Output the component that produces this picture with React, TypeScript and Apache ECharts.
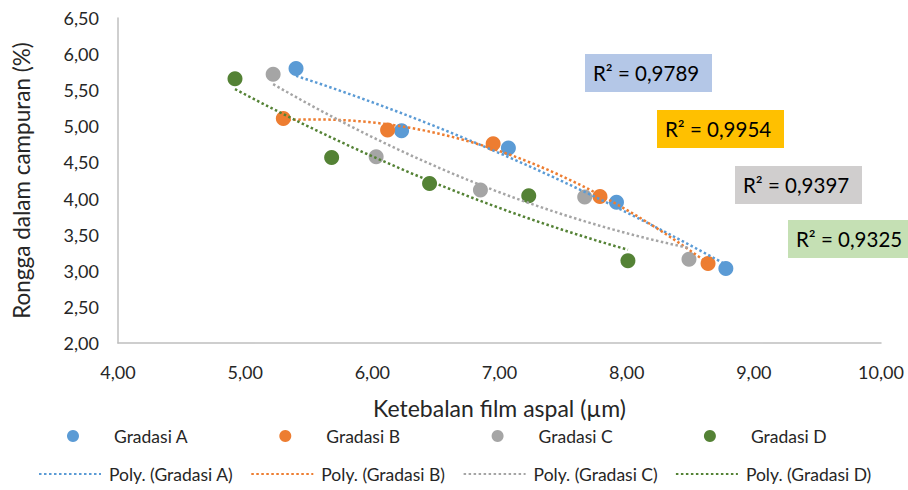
import React, { useEffect, useRef } from 'react';
import * as echarts from 'echarts';

const seriesNames = ['Gradasi A', 'Gradasi B', 'Gradasi C', 'Gradasi D'];
const trendNames = ['Poly. (Gradasi A)', 'Poly. (Gradasi B)', 'Poly. (Gradasi C)', 'Poly. (Gradasi D)'];
const colors = ['#5B9BD5', '#ED7D31', '#A5A5A5', '#548235'];

const xA = [5.40, 6.23, 7.07, 7.92, 8.78];
const yA = [5.80, 4.94, 4.70, 3.95, 3.03];
const xB = [5.30, 6.12, 6.95, 7.79, 8.64];
const yB = [5.11, 4.95, 4.76, 4.03, 3.10];
const xC = [5.22, 6.03, 6.85, 7.67, 8.49];
const yC = [5.72, 4.58, 4.12, 4.02, 3.16];
const xD = [4.92, 5.68, 6.45, 7.23, 8.01];
const yD = [5.66, 4.57, 4.21, 4.04, 3.14];

const xsAll = [xA, xB, xC, xD];
const ysAll = [yA, yB, yC, yD];

const r2Labels = ['R² = 0,9789', 'R² = 0,9954', 'R² = 0,9397', 'R² = 0,9325'];
const r2Backgrounds = ['#B4C7E7', '#FFC000', '#D0CECE', '#C5E0B4'];

const FONT = 'Lato, "Open Sans", sans-serif';
const TEXT = '#262626';

// least-squares quadratic trendline (as Excel's "Poly." order 2)
function polyFit2(xs: number[], ys: number[]): number[] {
  const s = [0, 0, 0, 0, 0];
  const t = [0, 0, 0];
  for (let i = 0; i < xs.length; i++) {
    let p = 1;
    for (let k = 0; k < 5; k++) {
      s[k] += p;
      if (k < 3) t[k] += p * ys[i];
      p *= xs[i];
    }
  }
  const m = [
    [s[0], s[1], s[2], t[0]],
    [s[1], s[2], s[3], t[1]],
    [s[2], s[3], s[4], t[2]],
  ];
  for (let c = 0; c < 3; c++) {
    let piv = c;
    for (let r = c + 1; r < 3; r++) if (Math.abs(m[r][c]) > Math.abs(m[piv][c])) piv = r;
    [m[c], m[piv]] = [m[piv], m[c]];
    for (let r = 0; r < 3; r++) {
      if (r === c) continue;
      const f = m[r][c] / m[c][c];
      for (let k = c; k < 4; k++) m[r][k] -= f * m[c][k];
    }
  }
  return [m[0][3] / m[0][0], m[1][3] / m[1][1], m[2][3] / m[2][2]];
}

function trendPoints(xs: number[], ys: number[]): number[][] {
  const [a, b, c] = polyFit2(xs, ys);
  const lo = Math.min(...xs);
  const hi = Math.max(...xs);
  const pts: number[][] = [];
  const n = 60;
  for (let i = 0; i <= n; i++) {
    const x = lo + ((hi - lo) * i) / n;
    pts.push([x, a + b * x + c * x * x]);
  }
  return pts;
}

const fmt = (v: number) => v.toFixed(2).replace('.', ',');

export default function App() {
  const ref = useRef<HTMLDivElement>(null);
  useEffect(() => {
    if (!ref.current) return;
    const chart = echarts.init(ref.current, undefined, { renderer: 'svg' });

    const scatterSeries = seriesNames.map((name, i) => ({
      name,
      type: 'scatter',
      symbol: 'circle',
      symbolSize: 15,
      itemStyle: { color: colors[i], opacity: 1 },
      data: xsAll[i].map((x, j) => [x, ysAll[i][j]]),
      z: 2,
    }));
    const trendSeries = trendNames.map((name, i) => ({
      name,
      type: 'line',
      symbol: 'none',
      showSymbol: false,
      smooth: false,
      lineStyle: { color: colors[i], width: 2.5, type: [2.5, 2.5] },
      itemStyle: { color: colors[i] },
      data: trendPoints(xsAll[i], ysAll[i]),
      z: 3,
    }));

    const legendStep = 212.3;
    const legends: any[] = [];
    seriesNames.forEach((name, i) => {
      legends.push({
        data: [name],
        left: 67 + legendStep * i,
        top: 427,
        padding: 0,
        icon: 'circle',
        itemWidth: 12,
        itemHeight: 12,
        itemGap: 0,
        selectedMode: false,
        textStyle: { fontFamily: FONT, fontSize: 17.5, color: TEXT, lineHeight: 18, padding: [0, 0, 0, 30] },
      });
    });
    trendNames.forEach((name, i) => {
      legends.push({
        data: [name],
        left: 38 + legendStep * i,
        top: 465,
        padding: 0,
        itemWidth: 62,
        itemHeight: 12,
        itemGap: 0,
        selectedMode: false,
        itemStyle: { opacity: 0 },
        lineStyle: { width: 2 },
        textStyle: { fontFamily: FONT, fontSize: 17.5, color: TEXT, lineHeight: 18, padding: [0, 0, 0, 3] },
      });
    });

    const boxes = [
      { x: 585, y: 54 },
      { x: 657, y: 110 },
      { x: 735, y: 166 },
      { x: 788, y: 220 },
    ];
    const graphic = r2Labels.map((label, i) => ({
      type: 'group',
      left: boxes[i].x,
      top: boxes[i].y,
      children: [
        { type: 'rect', shape: { x: 0, y: 0, width: 127, height: 38 }, style: { fill: r2Backgrounds[i] } },
        {
          type: 'text',
          x: 8,
          y: 19,
          style: { text: label, fontFamily: FONT, fontSize: 20.5, fill: '#000', verticalAlign: 'middle', align: 'left' },
        },
      ],
    }));

    chart.setOption({
      animation: false,
      textStyle: { fontFamily: FONT },
      grid: { left: 118, right: 27, top: 18, bottom: 147, containLabel: false },
      xAxis: {
        type: 'value',
        min: 4,
        max: 10,
        interval: 1,
        name: 'Ketebalan film aspal (µm)',
        nameLocation: 'middle',
        nameGap: 53,
        nameTextStyle: { fontFamily: FONT, fontSize: 23, color: TEXT },
        axisLine: { show: true, onZero: false, lineStyle: { color: '#BFBFBF', width: 1.5 } },
        axisTick: { show: false },
        splitLine: { show: false },
        axisLabel: { formatter: fmt, fontFamily: FONT, fontSize: 18, color: TEXT, margin: 20 },
      },
      yAxis: {
        type: 'value',
        min: 2,
        max: 6.5,
        interval: 0.5,
        name: 'Rongga dalam campuran (%)',
        nameLocation: 'middle',
        nameGap: 85,
        nameRotate: 90,
        nameTextStyle: { fontFamily: FONT, fontSize: 22.5, color: TEXT },
        axisLine: { show: true, onZero: false, lineStyle: { color: '#BFBFBF', width: 1.5 } },
        axisTick: { show: false },
        splitLine: { show: false },
        axisLabel: { formatter: fmt, fontFamily: FONT, fontSize: 18, color: TEXT, margin: 19 },
      },
      legend: legends,
      graphic,
      series: [...trendSeries, ...scatterSeries],
    });
    return () => chart.dispose();
  }, []);
  return <div ref={ref} style={{ position: 'absolute', left: 0, top: 0, width: 908, height: 490, background: '#fff' }} />;
}
